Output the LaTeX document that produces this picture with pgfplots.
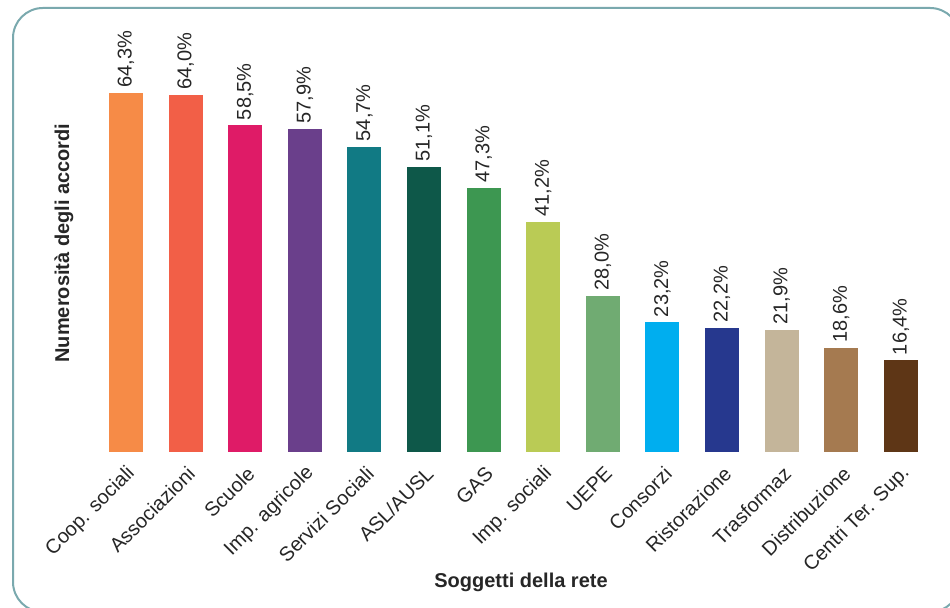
\documentclass[border=0pt]{standalone}
\usepackage{pgfplots}
\pgfplotsset{compat=1.18}
\usepackage{fontspec}
\setmainfont{Liberation Sans}

\definecolor{frame}{HTML}{7AA9AE}
\definecolor{c1}{HTML}{F68B47}
\definecolor{c2}{HTML}{F25F47}
\definecolor{c3}{HTML}{DF1B67}
\definecolor{c4}{HTML}{6A3F8B}
\definecolor{c5}{HTML}{117A84}
\definecolor{c6}{HTML}{0E5849}
\definecolor{c7}{HTML}{3D9751}
\definecolor{c8}{HTML}{BACB55}
\definecolor{c9}{HTML}{70AB72}
\definecolor{c10}{HTML}{00AEEF}
\definecolor{c11}{HTML}{26388E}
\definecolor{c12}{HTML}{C4B59A}
\definecolor{c13}{HTML}{A57A50}
\definecolor{c14}{HTML}{5E3616}

\pgfplotsset{
  onebar/.style={fill=#1, draw=none},
}

\begin{document}
\begin{tikzpicture}
\path[use as bounding box] (0pt,0pt) rectangle (475pt,304pt);

\begin{axis}[
    at={(48.1pt,78pt)}, anchor=south west,
    scale only axis,
    width=417.2pt, height=195.4pt,
    xmin=-0.5, xmax=13.5,
    ymin=0, ymax=70,
    ybar, bar width=17pt, bar shift=0pt,
    axis line style={draw=none},
    major tick length=0pt,
    ytick=\empty,
    xtick={0,...,13},
    xticklabels={Coop. sociali, Associazioni, Scuole, Imp. agricole,
      Servizi Sociali, ASL/AUSL, GAS, Imp. sociali, UEPE, Consorzi,
      Ristorazione, Trasformaz, Distribuzione, Centri Ter. Sup.},
    x tick label style={xshift=3pt, yshift=-9pt, rotate=45, anchor=east,
      inner sep=0pt, font=\fontsize{10}{12}\selectfont, text=black!85},
    /pgf/number format/assume math mode=true,
    nodes near coords={\pgfmathprintnumber[fixed,fixed zerofill,precision=1,use comma]{\pgfplotspointmeta}\%},
    every node near coord/.append style={rotate=90, anchor=west,
      font=\fontsize{10}{12}\selectfont, text=black!85, inner sep=2.5pt},
]
\addplot[onebar=c1]  coordinates {(0,64.3)};
\addplot[onebar=c2]  coordinates {(1,64.0)};
\addplot[onebar=c3]  coordinates {(2,58.5)};
\addplot[onebar=c4]  coordinates {(3,57.9)};
\addplot[onebar=c5]  coordinates {(4,54.7)};
\addplot[onebar=c6]  coordinates {(5,51.1)};
\addplot[onebar=c7]  coordinates {(6,47.3)};
\addplot[onebar=c8]  coordinates {(7,41.2)};
\addplot[onebar=c9]  coordinates {(8,28.0)};
\addplot[onebar=c10] coordinates {(9,23.2)};
\addplot[onebar=c11] coordinates {(10,22.2)};
\addplot[onebar=c12] coordinates {(11,21.9)};
\addplot[onebar=c13] coordinates {(12,18.6)};
\addplot[onebar=c14] coordinates {(13,16.4)};
\end{axis}

\node[rotate=90, font=\bfseries\fontsize{10}{12}\selectfont, text=black!85]
  at (32pt,182.5pt) {Numerosità degli accordi};
\node[font=\bfseries\fontsize{10}{12}\selectfont, text=black!85]
  at (260.5pt,13pt) {Soggetti della rete};

\draw[frame, line width=1pt, rounded corners=15pt]
  (6.5pt,-2pt) rectangle (480pt,300pt);
\end{tikzpicture}
\end{document}
